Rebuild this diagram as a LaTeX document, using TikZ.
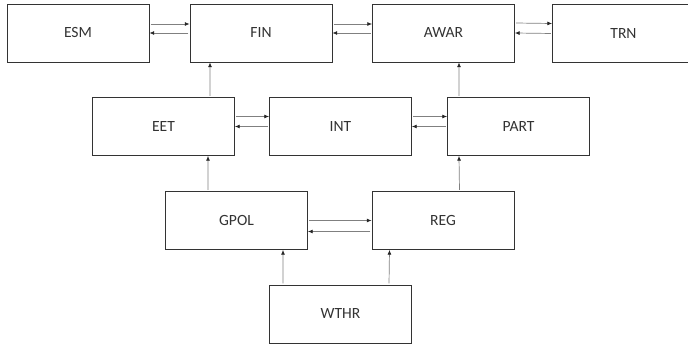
\documentclass[tikz,border=0pt]{standalone}
\usepackage{fontspec}
\setmainfont{Carlito}
\usetikzlibrary{arrows.meta}

\begin{document}
\begin{tikzpicture}[x=0.03cm,y=-0.03cm,>={Latex[length=4pt,width=3.4pt,color=black!85]},
  every node/.style={font=\fontsize{13.3}{16}\selectfont,text=black!80},
  block/.style={draw=black!80,line width=0.8pt,minimum width=4.26cm,
    minimum height=1.74cm,inner sep=0pt},
  link/.style={->,draw=black!50,line width=0.6pt,shorten <=1pt}]
  \useasboundingbox (0,0) rectangle (688,344);
  % top row
  \node[block] (esm)  at (78,33)    {ESM};
  \node[block] (fin)  at (261,33)   {FIN};
  \node[block] (awar) at (443.5,33) {AWAR};
  \node[block] (trn)  at (623.5,33.5) {TRN};
  % middle row
  \node[block] (eet)  at (163.5,126.5) {EET};
  \node[block] (int)  at (340.5,126.5) {INT};
  \node[block] (part) at (518.5,126.5) {PART};
  % lower rows
  \node[block] (gpol) at (236.5,220.5) {GPOL};
  \node[block] (reg)  at (443,220.5)   {REG};
  \node[block] (wthr) at (340.5,314)   {WTHR};

  \draw[link] ([yshift=.27cm]esm.east) -- ([yshift=.27cm]fin.west);
  \draw[link] (fin.west) -- (esm.east);
  \draw[link] ([yshift=.27cm]fin.east) -- ([yshift=.27cm]awar.west);
  \draw[link] (awar.west) -- (fin.east);
  \draw[link] ([yshift=.3cm]awar.east) -- ([yshift=.3cm]trn.west);
  \draw[link] (trn.west) -- (awar.east);
  \draw[link] ([yshift=.3cm]eet.east) -- ([yshift=.3cm]int.west);
  \draw[link] (int.west) -- (eet.east);
  \draw[link] ([yshift=.3cm]int.east) -- ([yshift=.3cm]part.west);
  \draw[link] (part.west) -- (int.east);
  \draw[link] (gpol.east) -- (reg.west);
  \draw[link] ([yshift=-.33cm]reg.west) -- ([yshift=-.33cm]gpol.east);

  \draw[link] ([xshift=1.395cm]eet.north) -- ([xshift=-1.53cm]fin.south);
  \draw[link] ([xshift=-1.785cm]part.north) -- ([xshift=.465cm]awar.south);
  \draw[link] ([xshift=-.855cm]gpol.north) -- ([xshift=1.335cm]eet.south);
  \draw[link] ([xshift=.495cm]reg.north) -- ([xshift=-1.785cm]part.south);
  \draw[link] ([xshift=-1.725cm]wthr.north) -- ([xshift=1.395cm]gpol.south);
  \draw[link] ([xshift=1.455cm]wthr.north) -- ([xshift=-1.605cm]reg.south);
\end{tikzpicture}
\end{document}
